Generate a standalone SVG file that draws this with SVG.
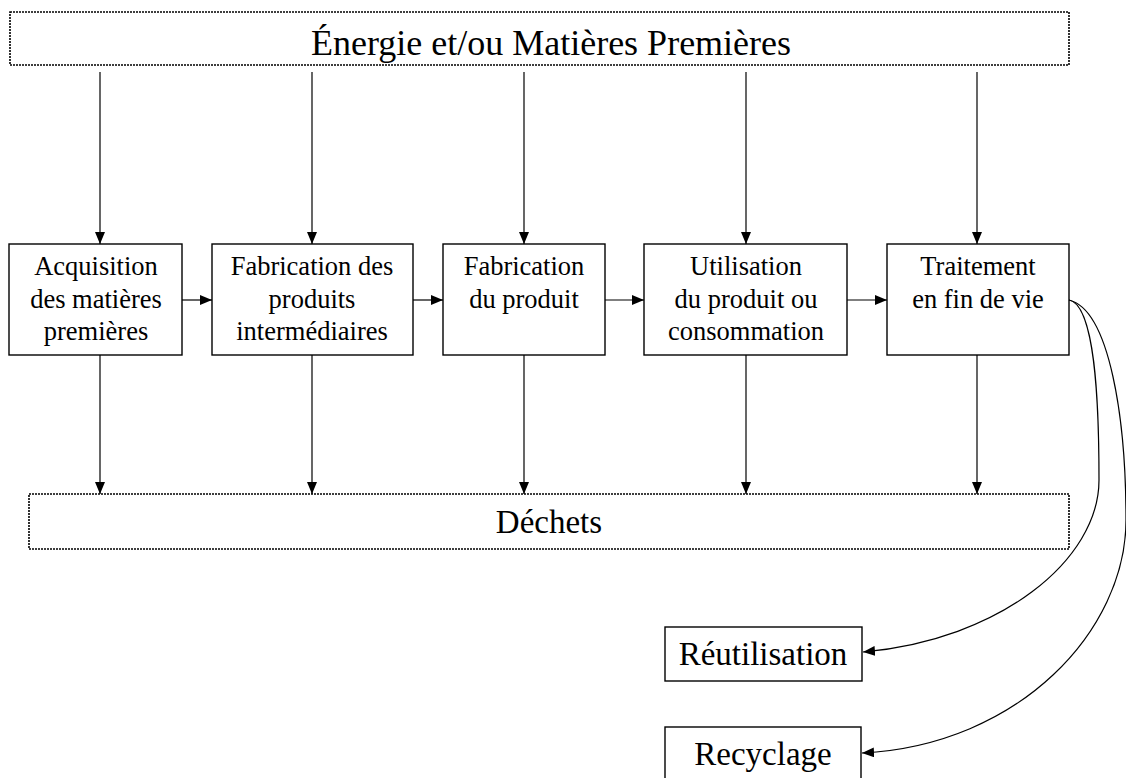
<svg xmlns="http://www.w3.org/2000/svg" width="1126" height="778" viewBox="0 0 1126 778">
  <defs>
    <marker id="arrow" viewBox="0 0 12 10" refX="12" refY="5" markerWidth="12" markerHeight="10" markerUnits="userSpaceOnUse" orient="auto">
      <path d="M0,0 L12,5 L0,10 Z" fill="#000"/>
    </marker>
  </defs>
  <rect width="1126" height="778" fill="#fff"/>

  <!-- Inputs band -->
  <g id="energie">
    <rect x="10" y="12" width="1059" height="53" fill="#fff" stroke="#000" stroke-width="1.6" stroke-dasharray="2 1"/>
    <text x="551" y="55" font-size="36" font-family="'Liberation Serif', serif" text-anchor="middle">Énergie et/ou Matières Premières</text>
  </g>

  <!-- Life-cycle stages -->
  <g id="acquisition">
    <rect x="9" y="244" width="173" height="111" fill="#fff" stroke="#000" stroke-width="1.4"/>
    <text x="96" y="275" font-size="26.5" font-family="'Liberation Serif', serif" text-anchor="middle">Acquisition</text>
    <text x="96" y="308" font-size="26.5" font-family="'Liberation Serif', serif" text-anchor="middle">des matières</text>
    <text x="96" y="340" font-size="26.5" font-family="'Liberation Serif', serif" text-anchor="middle">premières</text>
  </g>
  <g id="intermediaires">
    <rect x="212" y="244" width="201" height="111" fill="#fff" stroke="#000" stroke-width="1.4"/>
    <text x="312" y="275" font-size="26.5" font-family="'Liberation Serif', serif" text-anchor="middle">Fabrication des</text>
    <text x="312" y="308" font-size="26.5" font-family="'Liberation Serif', serif" text-anchor="middle">produits</text>
    <text x="312" y="340" font-size="26.5" font-family="'Liberation Serif', serif" text-anchor="middle">intermédiaires</text>
  </g>
  <g id="produit">
    <rect x="443" y="244" width="162" height="111" fill="#fff" stroke="#000" stroke-width="1.4"/>
    <text x="524" y="275" font-size="26.5" font-family="'Liberation Serif', serif" text-anchor="middle">Fabrication</text>
    <text x="524" y="308" font-size="26.5" font-family="'Liberation Serif', serif" text-anchor="middle">du produit</text>
  </g>
  <g id="utilisation">
    <rect x="644" y="244" width="203" height="111" fill="#fff" stroke="#000" stroke-width="1.4"/>
    <text x="746" y="275" font-size="26.5" font-family="'Liberation Serif', serif" text-anchor="middle">Utilisation</text>
    <text x="746" y="308" font-size="26.5" font-family="'Liberation Serif', serif" text-anchor="middle">du produit ou</text>
    <text x="746" y="340" font-size="26.5" font-family="'Liberation Serif', serif" text-anchor="middle">consommation</text>
  </g>
  <g id="fin-de-vie">
    <rect x="887" y="244" width="182" height="111" fill="#fff" stroke="#000" stroke-width="1.4"/>
    <text x="978" y="275" font-size="26.5" font-family="'Liberation Serif', serif" text-anchor="middle">Traitement</text>
    <text x="978" y="308" font-size="26.5" font-family="'Liberation Serif', serif" text-anchor="middle">en fin de vie</text>
  </g>

  <!-- Outputs band -->
  <g id="dechets">
    <rect x="29" y="494" width="1040" height="55" fill="#fff" stroke="#000" stroke-width="1.6" stroke-dasharray="2 1"/>
    <text x="549" y="533" font-size="33" font-family="'Liberation Serif', serif" text-anchor="middle">Déchets</text>
  </g>

  <g id="reutilisation">
    <rect x="665" y="627" width="197" height="54" fill="#fff" stroke="#000" stroke-width="1.4"/>
    <text x="763" y="665" font-size="33" font-family="'Liberation Serif', serif" text-anchor="middle">Réutilisation</text>
  </g>
  <g id="recyclage">
    <rect x="665" y="727" width="196" height="60" fill="#fff" stroke="#000" stroke-width="1.4"/>
    <text x="763" y="765" font-size="33" font-family="'Liberation Serif', serif" text-anchor="middle">Recyclage</text>
  </g>

  <!-- Connectors -->
  <g id="connectors" fill="none" stroke="#000" stroke-width="1.2" marker-end="url(#arrow)">
    <line x1="100" y1="72" x2="100" y2="244"/>
    <line x1="312" y1="72" x2="312" y2="244"/>
    <line x1="524" y1="72" x2="524" y2="244"/>
    <line x1="746" y1="72" x2="746" y2="244"/>
    <line x1="977" y1="72" x2="977" y2="244"/>

    <line x1="182" y1="300" x2="212" y2="300"/>
    <line x1="413" y1="300" x2="443" y2="300"/>
    <line x1="605" y1="300" x2="644" y2="300"/>
    <line x1="847" y1="300" x2="887" y2="300"/>

    <line x1="100" y1="355" x2="100" y2="494"/>
    <line x1="312" y1="355" x2="312" y2="494"/>
    <line x1="524" y1="355" x2="524" y2="494"/>
    <line x1="746" y1="355" x2="746" y2="494"/>
    <line x1="977" y1="355" x2="977" y2="494"/>

    <path d="M1069,300 C1095,305 1099,400 1099,480 C1099,560 1000,640 863,652"/>
    <path d="M1069,300 C1110,310 1126,420 1126,520 C1126,630 1020,745 862,753"/>
  </g>
</svg>
